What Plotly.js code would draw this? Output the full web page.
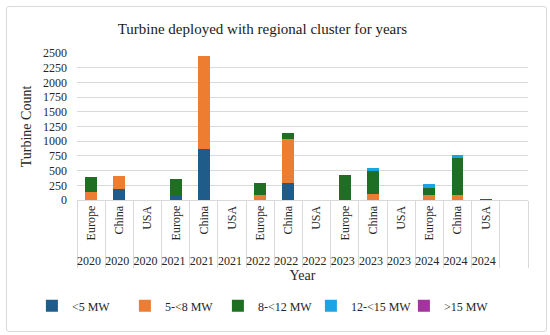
<!DOCTYPE html>
<html>
<head>
<meta charset="utf-8">
<script src="https://cdn.plot.ly/plotly-3.0.1.min.js"></script>
<style>
  html, body { margin: 0; padding: 0; background: #fff; }
  #wrap { position: relative; width: 550px; height: 335px; }
  #chart { width: 550px; height: 335px; }
  #frame { position: absolute; left: 6px; top: 6px; width: 539px; height: 324px;
           border: 1px solid #d9d9d9; border-radius: 3px; pointer-events: none; }
</style>
</head>
<body>
<div id="wrap"><div id="chart"></div><div id="frame"></div></div>
<script>
const regions = ["Europe","China","USA","Europe","China","USA","Europe","China","USA","Europe","China","USA","Europe","China","USA"];
const years   = ["2020","2020","2020","2021","2021","2021","2022","2022","2022","2023","2023","2023","2024","2024","2024"];

const lt5      = [0,190,0,   90,870,0,   0,290,0,   0,0,0,     0,0,0];
const mw5to8   = [130,220,0, 0,1580,0,   85,740,0,  0,100,0,   90,90,0];
const mw8to12  = [255,0,0,   265,0,0,    205,115,0, 420,385,0, 120,620,10];
const mw12to15 = [0,0,0,     0,0,0,      0,0,0,     0,65,0,    60,50,0];
const gt15     = [0,0,0,     0,0,0,      0,0,0,     0,0,0,     0,0,0];

const seriesNames  = ["<5 MW","5-<8 MW","8-<12 MW","12-<15 MW",">15 MW"];
const seriesValues = [lt5, mw5to8, mw8to12, mw12to15, gt15];
const seriesColors = ["#1F5C8A","#ED7D31","#1E6E23","#1CA3E3","#A3339F"];

// each bar gets its own year label (repeated under every bar), plus one empty trailing slot
const outer = years.map((y,i) => y + "\u200b".repeat(i % 3)).concat(["\u00a0"]);
const inner = regions.concat(["\u00a0"]);

const traces = seriesNames.map((name, k) => ({
  type: "bar",
  name: name,
  x: [outer, inner],
  y: seriesValues[k].map(v => v === 0 ? null : v).concat([null]),
  marker: { color: seriesColors[k] },
  hoverinfo: "name+y"
}));

const serif = "Liberation Serif";

const layout = {
  width: 550, height: 335,
  paper_bgcolor: "rgba(0,0,0,0)", plot_bgcolor: "#fff",
  barmode: "stack",
  bargap: 0.58,
  margin: { l: 77, r: 22, t: 53, b: 135, autoexpand: false },
  title: { text: "Turbine deployed with regional cluster for years",
           font: { family: serif, size: 15, color: "#1a1a1a" },
           x: 0.477, xanchor: "center", y: 0.913, yanchor: "middle" },
  xaxis: {
    type: "multicategory",
    tickangle: -90,
    automargin: false,
    tickfont: { family: serif, size: 12, color: "#262626" },
    showdividers: true, dividercolor: "#d9d9d9", dividerwidth: 1,
    showline: true, linecolor: "#d9d9d9", linewidth: 1,
    ticks: "", showgrid: false,
    title: { text: "Year", font: { family: serif, size: 14, color: "#262626" }, standoff: 3 }
  },
  yaxis: {
    range: [0, 2500], dtick: 250, tick0: 0,
    automargin: false,
    gridcolor: "#d9d9d9", gridwidth: 1,
    zeroline: false, showline: false,
    tickfont: { family: serif, size: 12, color: "#262626" },
    ticks: "", ticklabelstandoff: 9,
    title: { text: "Turbine Count", font: { family: serif, size: 14, color: "#262626" }, standoff: 8 }
  },
  legend: {
    orientation: "h", x: -0.1, xanchor: "left", y: -0.72, yanchor: "middle",
    font: { family: serif, size: 12, color: "#262626" },
    traceorder: "normal", itemwidth: 30,
    entrywidth: 48, entrywidthmode: "pixels"
  },
  showlegend: true
};

Plotly.newPlot("chart", traces, layout, { displayModeBar: false, staticPlot: true });
</script>
</body>
</html>
